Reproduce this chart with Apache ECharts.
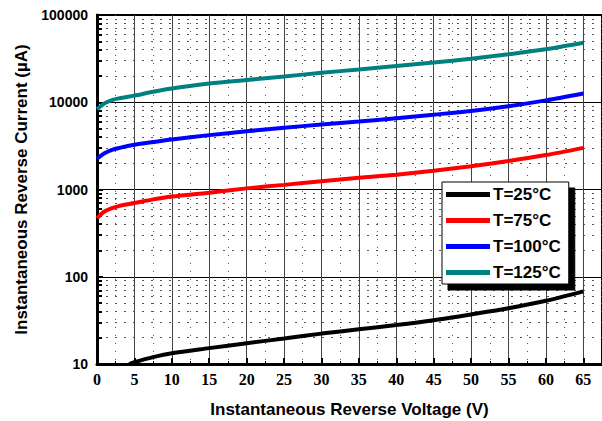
<!DOCTYPE html>
<html>
<head>
<meta charset="utf-8">
<script src="https://cdn.jsdelivr.net/npm/echarts@6/dist/echarts.min.js"></script>
<style>
  html, body { margin: 0; padding: 0; background: #fff; }
  #chart { width: 602px; height: 421px; }
</style>
</head>
<body>
<div id="chart"></div>
<script>
(function() {
  // reverse voltage (V) sample points
  var volts = [0, 1, 2, 3, 5, 7.5, 10, 15, 20, 25, 30, 35, 40, 45, 50, 55, 60, 65];
  var t125 = [8300, 9700, 10600, 11100, 11900, 13200, 14400, 16400, 18000, 19700, 21800, 23700, 26000, 28500, 31500, 35500, 40500, 48000];
  var t100 = [2250, 2600, 2850, 3000, 3250, 3500, 3750, 4200, 4650, 5100, 5550, 6000, 6550, 7200, 7950, 9000, 10500, 12600];
  var t75 = [470, 560, 610, 650, 700, 770, 830, 920, 1030, 1130, 1240, 1360, 1480, 1640, 1850, 2120, 2480, 3000];
  // 25C curve only enters the plot above 10 uA
  var volts25 = [4.3, 5, 7.5, 10, 15, 20, 25, 30, 35, 40, 45, 50, 55, 60, 65];
  var t25 = [10, 10.5, 12, 13.3, 15.2, 17.3, 19.6, 22.3, 25, 28, 31.8, 37, 43.5, 53, 68];
  var names = ['T=25°C', 'T=75°C', 'T=100°C', 'T=125°C'];
  var colors = ['#000000', '#ff0000', '#0000ff', '#008080'];

  function pairs(xs, ys) {
    return xs.map(function(x, i) { return [x, ys[i]]; });
  }
  var seriesData = [pairs(volts25, t25), pairs(volts, t75), pairs(volts, t100), pairs(volts, t125)];

  var sans = "'Liberation Sans', Arial, sans-serif";
  var serif = "'Liberation Serif', 'Times New Roman', serif";

  var chart = echarts.init(document.getElementById('chart'), null, { renderer: 'svg' });
  chart.setOption({
    animation: false,
    backgroundColor: '#fff',
    grid: {
      left: 97, top: 15, right: 0, bottom: 57,
      outerBoundsMode: 'none',
      show: true, borderColor: '#000', borderWidth: 2
    },
    legend: {
      data: names,
      orient: 'vertical',
      left: 442,
      top: 182,
      icon: 'rect',
      itemWidth: 44,
      itemHeight: 5,
      itemGap: 9,
      padding: [4, 8, 3, 4],
      backgroundColor: '#fff',
      borderColor: '#000',
      borderWidth: 1,
      shadowColor: '#000',
      shadowOffsetX: 6,
      shadowOffsetY: 6,
      textStyle: { color: '#000', fontFamily: sans, fontWeight: 'bold', fontSize: 17, lineHeight: 16, padding: [0, 0, 0, -2] }
    },
    xAxis: {
      type: 'value',
      min: 0,
      max: 67.5,
      interval: 5,
      name: 'Instantaneous Reverse Voltage (V)',
      nameLocation: 'middle',
      nameGap: 37,
      nameTextStyle: { color: '#000', fontFamily: sans, fontWeight: 'bold', fontSize: 17 },
      axisLine: { lineStyle: { color: '#000', width: 3 } },
      axisTick: { inside: true, length: 6, lineStyle: { color: '#000', width: 2 } },
      minorTick: { show: true, splitNumber: 2, length: 3, lineStyle: { color: '#000' } },
      axisLabel: {
        color: '#000', fontFamily: serif, fontWeight: 'bold', fontSize: 16, margin: 7,
        showMaxLabel: false,
        formatter: function(v) { return v % 5 === 0 ? String(v) : ''; }
      },
      splitLine: { show: true, lineStyle: { color: '#444', width: 1 } },
      minorSplitLine: { show: true, lineStyle: { color: '#555', width: 1, type: [1, 7] } }
    },
    yAxis: {
      type: 'log',
      logBase: 10,
      min: 10,
      max: 100000,
      name: 'Instantaneous Reverse Current (µA)',
      nameLocation: 'middle',
      nameGap: 66,
      nameTextStyle: { color: '#000', fontFamily: sans, fontWeight: 'bold', fontSize: 17 },
      axisLine: { lineStyle: { color: '#000', width: 3 } },
      axisTick: { inside: true, length: 6, lineStyle: { color: '#000', width: 2 } },
      minorTick: { show: true, splitNumber: 9, length: 5, lineStyle: { color: '#000', width: 2 } },
      axisLabel: {
        color: '#000', fontFamily: sans, fontWeight: 'bold', fontSize: 14, margin: 9,
        formatter: function(v) { return String(Math.round(v)); }
      },
      splitLine: { show: true, lineStyle: { color: '#000', width: 1 } },
      minorSplitLine: { show: true, lineStyle: { color: '#555', width: 1, type: [2, 7] } }
    },
    series: names.map(function(n, i) {
      return {
        name: n,
        type: 'line',
        data: seriesData[i],
        smooth: 0.3,
        showSymbol: false,
        clip: true,
        lineStyle: { color: colors[i], width: 4 },
        itemStyle: { color: colors[i] }
      };
    })
  });
  window.addEventListener('resize', function() { chart.resize(); });
})();
</script>
</body>
</html>
